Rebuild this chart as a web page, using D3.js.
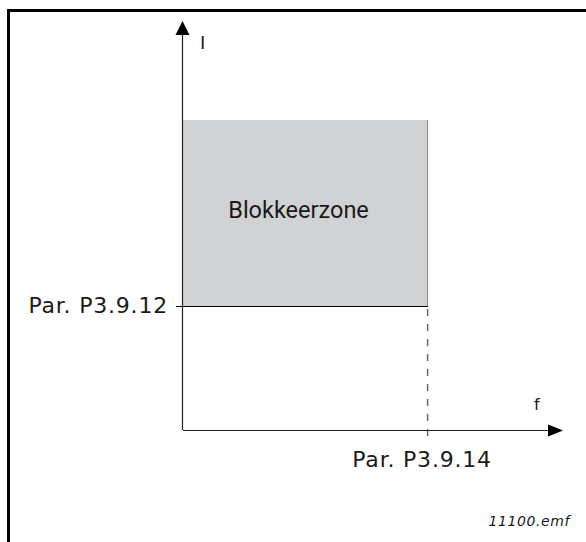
<!DOCTYPE html>
<html>
<head>
<meta charset="utf-8">
<script src="https://cdn.jsdelivr.net/npm/d3@7"></script>
<style>
  html, body { margin: 0; padding: 0; background: #fff; }
  svg { display: block; }
</style>
</head>
<body>
<svg id="chart"></svg>
<script>
// axis names and parameter labels
const axisLabels = ['f', 'I']
const freqMarks = [{ label: 'Par. P3.9.14', value: 64.5 }]
const currentMarks = [{ label: 'Par. P3.9.12', value: 30.3 }]
// blocking zone: f from 0 to P3.9.14, I from P3.9.12 to top
const zoneF = [0, 64.5]
const zoneI = [30.3, 75.8]
const zoneLabel = ['Blokkeerzone']
const fileTag = ['11100.emf']

const width = 586
const height = 542

const color = {
  frame: '#000',
  axis: '#222',
  zone: '#d1d2d4',
  zoneEdge: '#8a8a8a',
  dash: '#6b6b6b',
  text: '#1a1a1a'
}

const svg = d3.select('#chart').attr('width', width).attr('height', height)

const x = d3.scaleLinear().domain([0, 100]).range([183, 563])
const y = d3.scaleLinear().domain([0, 100]).range([430, 21])

// frame (top and left edge)
svg.append('path')
  .attr('d', 'M8.5,542 L8.5,10.5 L586,10.5')
  .attr('fill', 'none')
  .attr('stroke', color.frame)
  .attr('stroke-width', 3)

// zone
svg.append('rect')
  .attr('x', x(zoneF[0]))
  .attr('y', y(zoneI[1]))
  .attr('width', x(zoneF[1]) - x(zoneF[0]))
  .attr('height', y(zoneI[0]) - y(zoneI[1]))
  .attr('fill', color.zone)

svg.append('line')
  .attr('x1', x(zoneF[1]) - 0.5).attr('x2', x(zoneF[1]) - 0.5)
  .attr('y1', y(zoneI[1])).attr('y2', y(zoneI[0]))
  .attr('stroke', color.zoneEdge)
  .attr('stroke-width', 1)

svg.append('text')
  .attr('x', x((zoneF[0] + zoneF[1]) / 2) - 7)
  .attr('y', y((zoneI[0] + zoneI[1]) / 2) + 5)
  .attr('text-anchor', 'middle')
  .attr('font-family', 'Roboto')
  .attr('font-size', 23.5)
  .attr('fill', color.text)
  .text(zoneLabel[0])

// current threshold line + label
currentMarks.forEach(d => {
  svg.append('line')
    .attr('x1', x(0) - 7).attr('x2', x(zoneF[1]))
    .attr('y1', Math.round(y(d.value)) + 0.5).attr('y2', Math.round(y(d.value)) + 0.5)
    .attr('stroke', '#000')
    .attr('stroke-width', 1.2)
  svg.append('text')
    .attr('x', x(0) - 15)
    .attr('y', y(d.value) + 7)
    .attr('text-anchor', 'end')
    .attr('font-family', 'DejaVu Sans')
    .attr('font-size', 22)
    .attr('letter-spacing', 0.8)
    .attr('fill', color.text)
    .text(d.label)
})

// frequency threshold dashed line + label
freqMarks.forEach(d => {
  svg.append('line')
    .attr('x1', x(d.value) - 0.5).attr('x2', x(d.value) - 0.5)
    .attr('y1', y(currentMarks[0].value) + 3).attr('y2', y(0) + 12)
    .attr('stroke', color.dash)
    .attr('stroke-width', 1.5)
    .attr('stroke-dasharray', '7,8')
  svg.append('text')
    .attr('x', x(d.value) - 6)
    .attr('y', y(0) + 37)
    .attr('text-anchor', 'middle')
    .attr('font-family', 'DejaVu Sans')
    .attr('font-size', 22)
    .attr('letter-spacing', 0.8)
    .attr('fill', color.text)
    .text(d.label)
})

// axes
svg.append('line')
  .attr('x1', x(0) - 0.5).attr('x2', x(0) - 0.5)
  .attr('y1', y(0)).attr('y2', y(100) + 10)
  .attr('stroke', color.axis).attr('stroke-width', 1.2)
svg.append('line')
  .attr('x1', x(0)).attr('x2', x(100) - 10)
  .attr('y1', y(0) + 0.5).attr('y2', y(0) + 0.5)
  .attr('stroke', color.axis).attr('stroke-width', 1.2)

// arrow heads
svg.append('path')
  .attr('d', `M${x(0) - 0.5},${y(100)} L${x(0) + 6.5},${y(100) + 14} L${x(0) - 7.5},${y(100) + 14} Z`)
  .attr('fill', '#000')
svg.append('path')
  .attr('d', `M${x(100)},${y(0) + 0.5} L${x(100) - 15},${y(0) - 5.5} L${x(100) - 15},${y(0) + 6.5} Z`)
  .attr('fill', '#000')

// axis names
svg.append('text')
  .attr('x', x(0) + 17)
  .attr('y', y(100) + 28)
  .attr('font-family', 'DejaVu Sans')
  .attr('font-size', 18)
  .attr('fill', color.text)
  .text(axisLabels[1])
svg.append('text')
  .attr('x', x(100) - 29)
  .attr('y', y(0) - 20)
  .attr('font-family', 'DejaVu Sans')
  .attr('font-size', 16)
  .attr('fill', color.text)
  .text(axisLabels[0])

// file tag
svg.append('text')
  .attr('x', 570)
  .attr('y', 526)
  .attr('text-anchor', 'end')
  .attr('font-family', 'DejaVu Sans')
  .attr('font-style', 'italic')
  .attr('font-size', 14)
  .attr('letter-spacing', 0.6)
  .attr('fill', color.text)
  .text(fileTag[0])
</script>
</body>
</html>
